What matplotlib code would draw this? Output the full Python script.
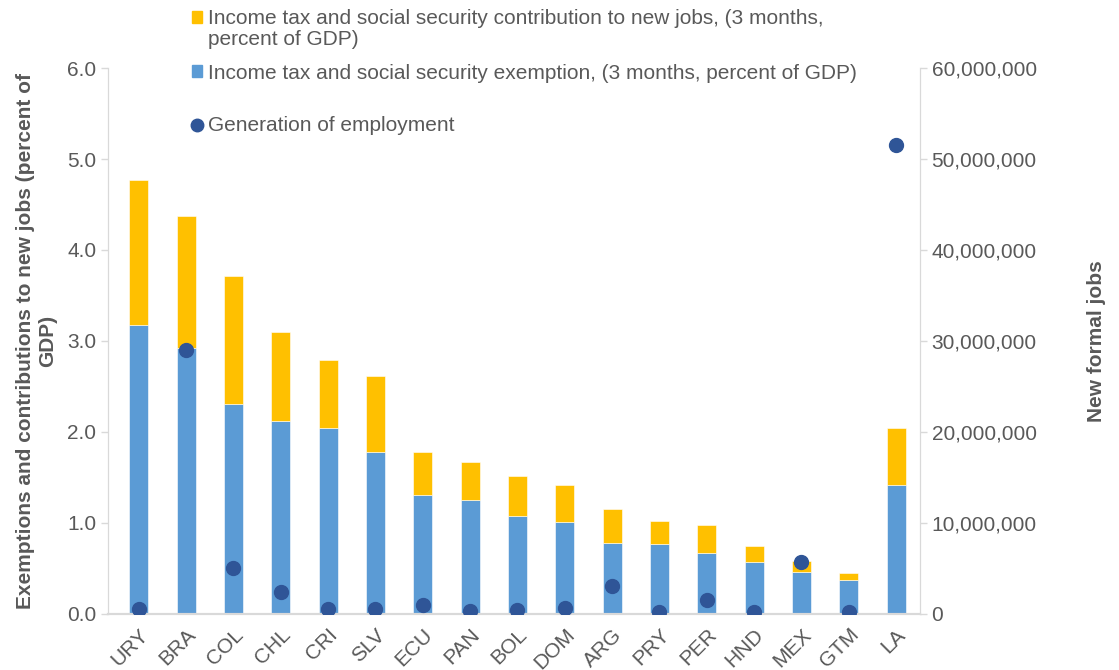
import matplotlib.pyplot as plt
from matplotlib.lines import Line2D
from matplotlib.patches import Patch
from matplotlib.ticker import FuncFormatter
import numpy as np

plt.rcParams['font.family'] = ['Liberation Sans', 'DejaVu Sans']

# data
countries = ['URY', 'BRA', 'COL', 'CHL', 'CRI', 'SLV', 'ECU', 'PAN', 'BOL',
             'DOM', 'ARG', 'PRY', 'PER', 'HND', 'MEX', 'GTM', 'LA']
exemption = [3.18, 2.92, 2.31, 2.12, 2.04, 1.78, 1.31, 1.25, 1.08,
             1.01, 0.78, 0.77, 0.67, 0.57, 0.46, 0.37, 1.42]
total = [4.77, 4.37, 3.71, 3.10, 2.79, 2.62, 1.78, 1.67, 1.52,
         1.42, 1.15, 1.02, 0.98, 0.75, 0.58, 0.45, 2.04]
contribution = [t - e for t, e in zip(total, exemption)]
new_jobs = [600000, 29000000, 5050000, 2400000, 550000, 500000, 1000000, 300000, 400000,
            700000, 3100000, 200000, 1500000, 200000, 5700000, 200000, 51500000]

gold = '#FFC000'
blue = '#5B9BD5'
dot = '#2F5597'
grey = '#595959'
axis_grey = '#D9D9D9'

fig = plt.figure(figsize=(11.19, 6.70), dpi=100)
ax = fig.add_axes([0.0965, 0.0836, 0.7255, 0.8149])
ax2 = ax.twinx()

x = np.arange(len(countries))
ax.bar(x, exemption, width=0.40, color=blue, edgecolor='white', linewidth=0.4, zorder=2)
ax.bar(x, contribution, bottom=exemption, width=0.40, color=gold, edgecolor='white',
       linewidth=0.4, zorder=2)
ax2.plot(x, new_jobs, 'o', color=dot, markersize=10, zorder=3)

ax.set_xlim(-0.65, 16.5)
ax.set_ylim(0, 6)
ax2.set_ylim(0, 60000000)
ax.set_yticks(np.arange(0, 6.1, 1.0))
ax.yaxis.set_major_formatter(FuncFormatter(lambda v, p: f'{v:.1f}'))
ax2.set_yticks(np.arange(0, 60000001, 10000000))
ax2.yaxis.set_major_formatter(FuncFormatter(lambda v, p: f'{int(v):,}'))

ax.set_xticks(x)
ax.set_xticklabels(countries, rotation=45, ha='right', rotation_mode='anchor')

for a in (ax, ax2):
    a.spines['top'].set_visible(False)
    a.spines['left'].set_color(axis_grey)
    a.spines['right'].set_color(axis_grey)
    a.spines['bottom'].set_color(axis_grey)
    a.spines['bottom'].set_linewidth(1.5)
    a.tick_params(colors=grey, labelsize=15, length=5, width=1)
    a.tick_params(axis='both', color=axis_grey)
ax.tick_params(axis='x', length=0, pad=8)

ax.set_ylabel('Exemptions and contributions to new jobs (percent of\nGDP)',
              fontsize=15, fontweight='bold', color=grey, labelpad=7, linespacing=1.2)
ax2.set_ylabel('New formal jobs', fontsize=15, fontweight='bold', color=grey, labelpad=36)

# legend: three blocks so the row spacing follows the reference
leg_kw = dict(frameon=False, fontsize=15, handlelength=0.5, handleheight=0.5,
              handletextpad=0.25, labelcolor=grey, borderpad=0, borderaxespad=0,
              loc='center left')
legA = fig.legend([Patch(color=gold), Patch(facecolor='none', edgecolor='none')],
                  ['Income tax and social security contribution to new jobs, (3 months,',
                   'percent of GDP)'],
                  bbox_to_anchor=(0.1716, 0.9567), labelspacing=0.1, **leg_kw)
legB = fig.legend([Patch(color=blue)],
                  ['Income tax and social security exemption, (3 months, percent of GDP)'],
                  bbox_to_anchor=(0.1716, 0.891), **leg_kw)
legC = fig.legend([Line2D([], [], marker='o', color=dot, linestyle='none', markersize=9)],
                  ['Generation of employment'],
                  bbox_to_anchor=(0.1716, 0.812), **leg_kw)

fig.savefig('out.png', dpi=100)
